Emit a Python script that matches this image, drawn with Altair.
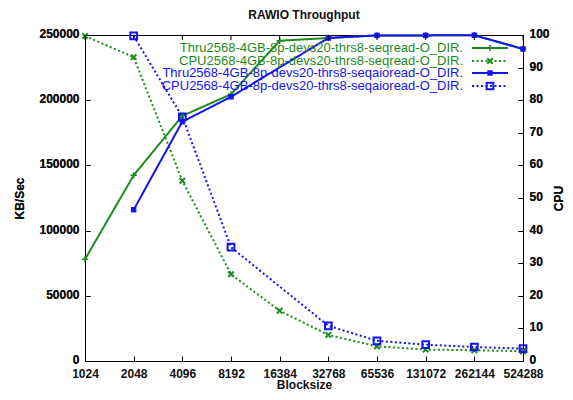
import altair as alt
import pandas as pd

# ---- data ----
blocksize = [1024, 2048, 4096, 8192, 16384, 32768, 65536, 131072, 262144, 524288]
thru_seqread = [78000, 142400, 188000, 204500, 245600, 247700, 249700, 249700, 249800, 239300]
cpu_seqread = [99.7, 93.2, 55.3, 26.6, 15.4, 8.0, 4.5, 3.5, 3.3, 3.0]
thru_seqaioread = [None, 116000, 183500, 202600, None, 247700, 249700, 249700, 249800, 239300]
cpu_seqaioread = [None, 99.7, 74.9, 34.9, None, 10.8, 6.2, 5.0, 4.3, 3.8]

labels = [
    "Thru2568-4GB-8p-devs20-thrs8-seqread-O_DIR.",
    "CPU2568-4GB-8p-devs20-thrs8-seqread-O_DIR.",
    "Thru2568-4GB-8p-devs20-thrs8-seqaioread-O_DIR.",
    "CPU2568-4GB-8p-devs20-thrs8-seqaioread-O_DIR.",
]
left_ticks = [0, 50000, 100000, 150000, 200000, 250000]
right_ticks = [0, 10, 20, 30, 40, 50, 60, 70, 80, 90, 100]

GREEN = "#1c8c1c"
BLUE = "#1414f0"
FONT = "Liberation Sans"
FS = 12
W, H = 438, 326

series = [
    dict(vals=thru_seqread, axis="left", color=GREEN, dash=[1, 0],
         shape="M-1,0H1M0,-1V1", size=40, filled=False, sw=1.5),
    dict(vals=cpu_seqread, axis="right", color=GREEN, dash=[2, 2.5],
         shape="M-1,-1L1,1M-1,1L1,-1", size=30, filled=False, sw=2),
    dict(vals=thru_seqaioread, axis="left", color=BLUE, dash=[1, 0],
         shape="square", size=30, filled=True, sw=1),
    dict(vals=cpu_seqaioread, axis="right", color=BLUE, dash=[2, 2.5],
         shape="square", size=45, filled=False, sw=2),
]

x_scale = alt.Scale(type="log", base=2, domain=[1024, 524288], nice=False)
x_enc = alt.X(
    "x:Q",
    scale=x_scale,
    axis=alt.Axis(values=blocksize, format="d", title="Blocksize", grid=False,
                  domain=False, tickSize=5, offset=-5, tickColor="#000",
                  labelPadding=7, titlePadding=0, labelOverlap=False,
                  labelBound=False, labelFlush=False),
)

layers = []
first_axis = {"left": True, "right": True}
for s, lab in zip(series, labels):
    df = pd.DataFrame({"x": blocksize, "v": s["vals"]}).dropna()
    if s["axis"] == "left":
        dom = [0, 250000]
        ax = alt.Axis(values=left_ticks, format="d", title="KB/Sec", grid=False,
                      domain=False, tickSize=5, offset=-5, tickColor="#000",
                      labelPadding=6, titlePadding=12, orient="left", labelOffset=-1.5,
                      labelOverlap=False, labelFlush=False) if first_axis["left"] else None
    else:
        dom = [0, 100]
        ax = alt.Axis(values=right_ticks, format="d", title="CPU", grid=False,
                      domain=False, tickSize=5, offset=-5, tickColor="#000",
                      labelPadding=6, titlePadding=16, orient="right", labelOffset=-1.5,
                      titleAngle=270, labelOverlap=False,
                      labelFlush=False) if first_axis["right"] else None
    first_axis[s["axis"]] = False
    y_kwargs = dict(scale=alt.Scale(domain=dom, nice=False, zero=True))
    if ax is None:
        y_enc = alt.Y("v:Q", axis=None, **y_kwargs)
    else:
        y_enc = alt.Y("v:Q", axis=ax, **y_kwargs)
    base = alt.Chart(df).encode(x=x_enc, y=y_enc)
    line = base.mark_line(color=s["color"], strokeWidth=2, strokeDash=s["dash"], clip=False)
    pts = base.mark_point(shape=s["shape"], size=s["size"], filled=s["filled"],
                          color=s["color"], strokeWidth=s["sw"], opacity=1)
    layers += [line, pts]

# mirrored ticks on the top border
tick_df = pd.DataFrame({"x": blocksize})
top_ticks = alt.Chart(tick_df).mark_rule(color="#000", strokeWidth=1).encode(
    x=alt.X("x:Q", scale=x_scale), y=alt.value(0), y2=alt.value(5))
layers.append(top_ticks)

# key (top right, inside plot)
row_y = [13, 26, 38, 51]
for s, lab, ry in zip(series, labels, row_y):
    ldf = pd.DataFrame({"label": [lab]})
    txt = alt.Chart(ldf).mark_text(align="right", baseline="middle", font=FONT,
                                   fontSize=13, color=s["color"]).encode(
        text="label:N", x=alt.value(378), y=alt.value(ry))
    rule = alt.Chart(ldf).mark_rule(color=s["color"], strokeWidth=2,
                                    strokeDash=s["dash"]).encode(
        x=alt.value(387), x2=alt.value(423), y=alt.value(ry))
    mk = alt.Chart(ldf).mark_point(shape=s["shape"], size=s["size"], filled=s["filled"],
                                   color=s["color"], strokeWidth=s["sw"], opacity=1).encode(
        x=alt.value(405), y=alt.value(ry))
    layers += [txt, rule, mk]

chart = alt.layer(*layers).resolve_scale(y="independent").properties(
    width=W, height=H,
    background="white",
    title=alt.Title("RAWIO Throughput", font=FONT, fontSize=FS, fontWeight="bold",
                    color="#111", offset=6, anchor="middle", frame="group"),
    autosize=alt.AutoSizeParams(type="none"),
    padding={"left": 77, "top": 27, "right": 42, "bottom": 31},
).configure_view(stroke="#000", strokeWidth=1).configure_axis(
    labelFont=FONT, labelFontSize=FS, labelFontWeight="bold", labelColor="#111",
    titleFont=FONT, titleFontSize=FS, titleFontWeight="bold", titleColor="#111",
)

chart.save("out.html", embed_options={"renderer": "svg", "actions": False})
